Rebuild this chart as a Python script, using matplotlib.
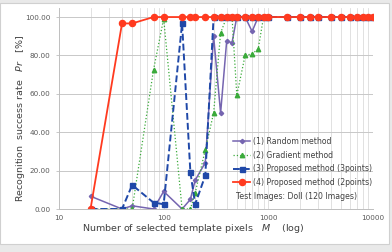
import matplotlib; matplotlib.use("Agg")
import matplotlib.pyplot as plt
from matplotlib.patches import Rectangle

# number of selected template pixels M
m_pixels = [20, 40, 50, 80, 100, 150, 180, 200, 250, 300, 350, 400, 450, 500, 600,
            700, 800, 900, 1000, 1500, 2000, 2500, 3000, 4000, 5000, 6000, 7000,
            8000, 9000, 10000]
random_rate = [6.67, 0, 1.67, 0, 9.17, 0, 5.0, 15.0, 24.17, 90.0, 50.0, 87.5, 86.67, 100,
               100, 92.5, 100, 100, 100] + [100] * 11
gradient_rate = [0, 0, 0, 72.5, 99.17, 0, 0, 8.33, 30.83, 50.0, 91.67, 100, 100, 59.17,
                 80.0, 80.83, 83.33, 100, 100] + [100] * 11
prop3_rate = [0, 0, 12.5, 3.33, 2.5, 96.67, 19.17, 2.5, 17.5, 100] + [100] * 20
prop2_rate = [0, 96.67, 96.67] + [100] * 27

labels = ["(1) Random method", "(2) Gradient method",
          "(3) Proposed method (3points)", "(4) Proposed method (2points)"]
y_ticks = [0, 20, 40, 60, 80, 100]
x_ticks = [10, 100, 1000, 10000]

fig = plt.figure(figsize=(3.92, 2.52), dpi=100, facecolor="#e9e9e9")
fig.patches.append(Rectangle((0, 0.032), 0.992, 0.956, transform=fig.transFigure,
                             facecolor="white", edgecolor="#d0d0d0", lw=0.8, zorder=-1))
ax = fig.add_axes([0.1505, 0.1706, 0.801, 0.7976])
ax.set_facecolor("white")

ax.plot(m_pixels, random_rate, color="#7565b0", lw=1.1, marker="D", ms=2.2, label=labels[0])
ax.plot(m_pixels, gradient_rate, color="#3aaa3a", lw=0.9, ls=":", marker="^", ms=3.2, label=labels[1])
ax.plot(m_pixels, prop3_rate, color="#1f48a8", lw=1.4, ls=(0, (3.5, 1.6)), marker="s", ms=3.6, label=labels[2])
ax.plot(m_pixels, prop2_rate, color="#ff3a1f", lw=1.3, marker="o", ms=4.4, label=labels[3])

ax.set_xscale("log")
ax.set_xlim(10, 10000)
ax.set_ylim(0, 104.7)
ax.set_xticks(x_ticks)
ax.set_xticklabels([str(v) for v in x_ticks])
ax.set_yticks(y_ticks)
ax.set_yticklabels([f"{v:.2f}" for v in y_ticks])
ax.xaxis.set_minor_formatter(matplotlib.ticker.NullFormatter())
ax.tick_params(axis="both", which="both", labelsize=5.2, labelcolor="#595959", length=0, pad=4)
ax.tick_params(axis="y", length=2, color="#bfbfbf", width=0.6)
ax.grid(True, which="both", axis="x", color="#dcdcdc", lw=0.6)
ax.grid(True, which="major", axis="y", color="#c8c8c8", lw=0.7)
ax.set_axisbelow(True)
for s in ["top", "right"]:
    ax.spines[s].set_visible(False)
for s in ["left", "bottom"]:
    ax.spines[s].set_color("#bfbfbf"); ax.spines[s].set_linewidth(0.7)

leg = ax.legend(loc="upper left", bbox_to_anchor=(0.545, 0.375), frameon=False, fontsize=5.6,
                handlelength=2.2, labelspacing=0.62, handletextpad=0.4, borderaxespad=0)
for t in leg.get_texts():
    t.set_color("#404040")
ax.text(0.564, 0.061, "Test Images: Doll (120 Images)", transform=ax.transAxes,
        fontsize=5.6, color="#404040", va="center", ha="left")

fig.text(0.493, 0.095, "Number of selected template pixels   $\\mathit{M}$    (log)",
         fontsize=6.8, color="#404040", ha="center", va="center")
fig.text(0.052, 0.532, "Recognition  success rate   $\\mathit{Pr}$   [%]", rotation=90,
         fontsize=6.8, color="#404040", ha="center", va="center")

fig.savefig("out.png", dpi=100, facecolor=fig.get_facecolor())
